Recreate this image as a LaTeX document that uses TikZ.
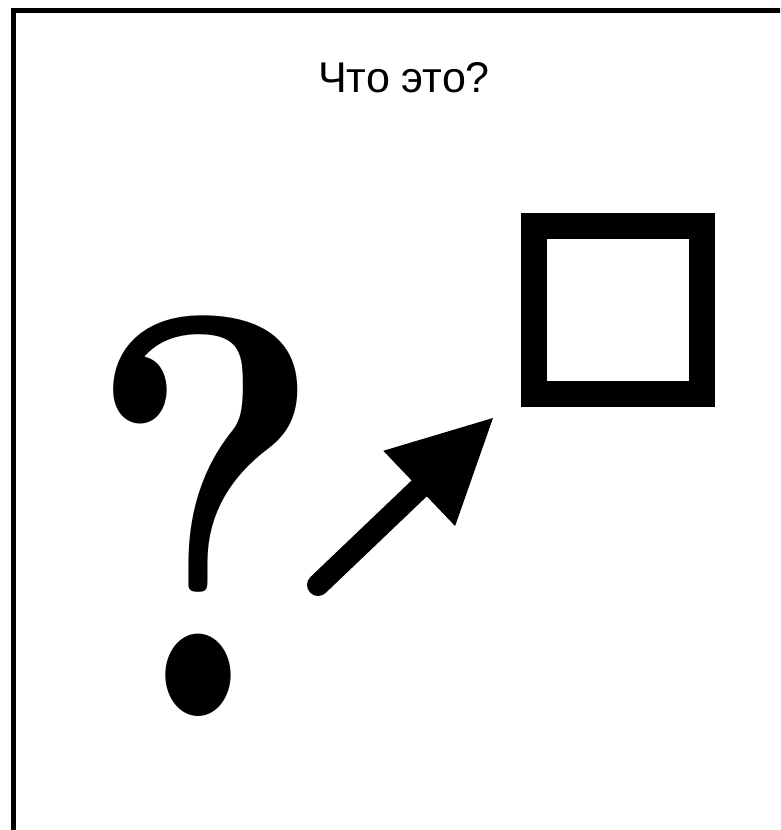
\documentclass[tikz,border=0pt]{standalone}
\usepackage{fontspec}
\setsansfont{Liberation Sans}
\usetikzlibrary{arrows.meta,positioning,calc}
\tikzset{
  caption/.style={font=\sffamily\fontsize{43}{43}\selectfont, anchor=base, inner sep=0pt},
  glyph/.style={font=\rmfamily\bfseries\fontsize{540}{540}\selectfont, inner sep=0pt,
    anchor=base, xscale=0.84, yscale=1.06},
  boxsq/.style={draw, line width=26pt, minimum size=168pt, inner sep=0pt},
  bigarrow/.style={-{Triangle[length=102pt, width=104pt, line width=0pt]},
    line width=22pt, line cap=round},
  rim/.style={line width=5pt},
}
\begin{document}
\begin{tikzpicture}[x=1pt,y=1pt]
  \useasboundingbox (0,0) rectangle (780,830);
  \clip (0,0) rectangle (780,830);
  % frame, cut off by the page at right and bottom
  \draw[rim] (13.5,-10) -- (13.5,819.2) -- (800,819.2);
  \node[caption] (title) at (404,737) {Что это?};
  \node[glyph] (quest) at (206,113) {?};
  \node[boxsq] (sq) at (618,520) {};
  % the arrow from the question to the square
  \coordinate (tail) at (318,245);
  \coordinate (tip) at (493,412);
  \draw[bigarrow] (tail) -- (tip);
\end{tikzpicture}
\end{document}
